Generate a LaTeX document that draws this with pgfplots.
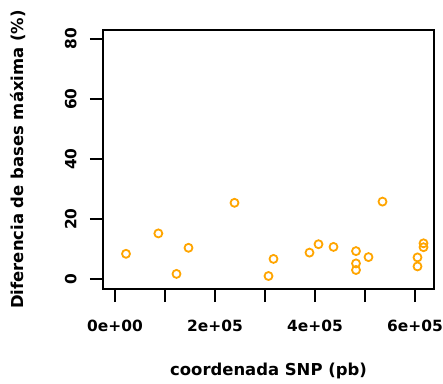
\documentclass[border=0pt]{standalone}
\usepackage{pgfplots}
\pgfplotsset{compat=1.18}
\usepackage{fontspec}
\setmainfont{DejaVu Sans}
\definecolor{rorange}{HTML}{FFA500}
\begin{document}
\begin{tikzpicture}
\begin{axis}[
  name=ax,
  scale only axis,
  width=331bp, height=259bp,
  xmin=-24000, xmax=638000,
  ymin=-3.33, ymax=83,
  scaled x ticks=false,
  axis line style={line width=2bp},
  every tick/.style={black, line width=2bp},
  tick align=outside,
  major tick length=13bp,
  xtick={0,100000,200000,300000,400000,500000,600000},
  xticklabels={0e+00,,2e+05,,4e+05,,6e+05},
  ytick={0,20,40,60,80},
  yticklabels={0,20,40,60,80},
  xtick pos=bottom, ytick pos=left,
  tick label style={font=\fontsize{15.5}{17}\selectfont\bfseries},
  xticklabel style={yshift=-15bp},
  yticklabel style={rotate=90, anchor=south, yshift=10bp},
  label style={font=\fontsize{16.5}{18}\selectfont\bfseries},
  xlabel={coordenada SNP (pb)},
  ylabel={Diferencia de bases máxima (\%)},
  xlabel style={yshift=-24bp},
  ylabel style={yshift=32bp},
]
\addplot[only marks, mark=o, mark size=4bp, mark options={draw=rorange, line width=1.8bp}] coordinates {
(22000,8.4)
(86700,15.2)
(123000,1.7)
(147000,10.4)
(239000,25.4)
(307000,1.0)
(317000,6.7)
(389000,8.8)
(407000,11.6)
(437000,10.7)
(482000,9.3)
(507000,7.3)
(482000,5.2)
(482000,3.0)
(535000,25.8)
(605000,7.2)
(605000,4.2)
(617000,11.9)
(617000,10.6)
};
\end{axis}
\pgfresetboundingbox
\path ([xshift=-103bp,yshift=-95bp]ax.south west) rectangle ([xshift=9bp,yshift=30bp]ax.north east);
\end{tikzpicture}
\end{document}
